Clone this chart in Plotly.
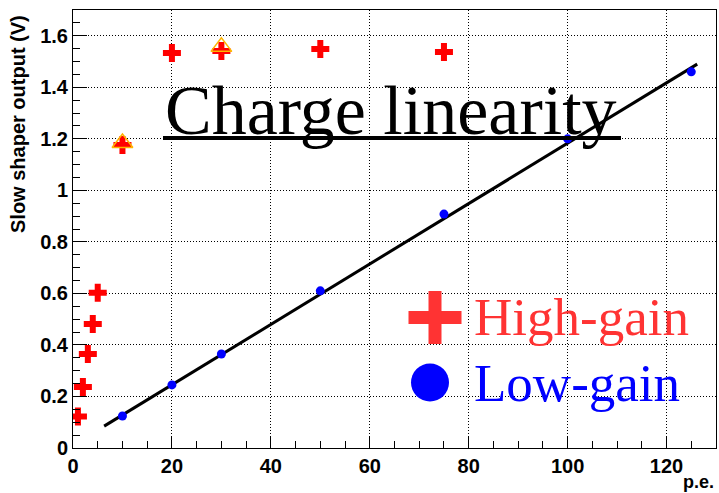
import plotly.graph_objects as go

# ---- data ----
hg_x = [1, 2, 3, 4, 5, 10, 20, 30, 50, 75]
hg_y = [0.122, 0.237, 0.365, 0.481, 0.603, 1.176, 1.533, 1.541, 1.549, 1.537]
tri_x = [10, 30]
tri_y = [1.184, 1.557]
lg_x = [10, 20, 30, 50, 75, 100, 125]
lg_y = [0.124, 0.245, 0.365, 0.61, 0.908, 1.2, 1.46]
fit_x = [6.3, 126.2]
fit_y = [0.085, 1.49]

x_range = [0, 130]
y_range = [0, 1.7]

# plot area in pixels
L, R, T, B = 73, 716, 10, 448
W, H = 719, 493

def px(x):
    return (x - L) / (R - L)

def py(y):
    return (B - y) / (B - T)

fig = go.Figure()
fig.add_trace(go.Scatter(x=hg_x, y=hg_y, mode="markers",
                         marker=dict(symbol="cross", size=15, color="#ff0000", line=dict(width=0)),
                         name="High-gain", showlegend=False))
fig.add_trace(go.Scatter(x=tri_x, y=tri_y, mode="markers",
                         marker=dict(symbol="triangle-up-open", size=18, color="#ffb400", line=dict(width=1.5)),
                         showlegend=False))
fig.add_trace(go.Scatter(x=fit_x, y=fit_y, mode="lines",
                         line=dict(color="black", width=3), showlegend=False))
fig.add_trace(go.Scatter(x=lg_x, y=lg_y, mode="markers",
                         marker=dict(symbol="circle", size=9, color="#0000ff", line=dict(width=0)),
                         name="Low-gain", showlegend=False))

tickfont = dict(family="Liberation Sans", size=20, color="black", weight="bold")
axis_common = dict(showline=True, linecolor="black", linewidth=1, mirror=True,
                   ticks="inside", tickcolor="black", showgrid=True, gridcolor="black",
                   gridwidth=1, griddash="1px,2px", zeroline=False, tickfont=tickfont)

fig.update_xaxes(range=x_range, dtick=20, tick0=0, ticklen=12,
                 minor=dict(dtick=5, ticks="inside", ticklen=7, tickcolor="black", showgrid=False),
                 **axis_common)
fig.update_yaxes(range=y_range, dtick=0.2, tick0=0, ticklen=14,
                 minor=dict(dtick=0.05, ticks="inside", ticklen=7, tickcolor="black", showgrid=False),
                 **axis_common)

annotations = [
    dict(text="Slow shaper output (V)", x=px(18), y=py(124), xref="paper", yref="paper",
         textangle=-90, showarrow=False, xanchor="center", yanchor="middle",
         font=dict(family="Liberation Sans", size=20, color="black", weight="bold")),
    dict(text="p.e.", x=1, y=py(482), xref="paper", yref="paper", showarrow=False,
         xanchor="right", yanchor="middle",
         font=dict(family="Liberation Sans", size=18, color="black", weight="bold")),
    dict(text="Charge linearity", x=px(391), y=py(111), xref="paper", yref="paper",
         showarrow=False, xanchor="center", yanchor="middle",
         font=dict(family="Liberation Serif", size=70, color="black")),
    dict(text="High-gain", x=px(472), y=py(317), xref="paper", yref="paper",
         showarrow=False, xanchor="left", yanchor="middle",
         font=dict(family="Liberation Serif", size=53, color="#ff3333")),
    dict(text="Low-gain", x=px(472), y=py(383), xref="paper", yref="paper",
         showarrow=False, xanchor="left", yanchor="middle",
         font=dict(family="Liberation Serif", size=53, color="#0000ff")),
]

shapes = [
    # title underline
    dict(type="rect", xref="paper", yref="paper", x0=px(163), x1=px(621), y0=py(140), y1=py(136),
         fillcolor="black", line=dict(width=0)),
    # legend cross
    dict(type="rect", xref="paper", yref="paper", x0=px(408.5), x1=px(461.5), y0=py(324), y1=py(311),
         fillcolor="#ff3333", line=dict(width=0)),
    dict(type="rect", xref="paper", yref="paper", x0=px(428.5), x1=px(441.5), y0=py(344), y1=py(291),
         fillcolor="#ff3333", line=dict(width=0)),
    # legend circle
    dict(type="circle", xref="paper", yref="paper", x0=px(411), x1=px(449), y0=py(401.5), y1=py(363.5),
         fillcolor="#0000ff", line=dict(width=0)),
]

fig.update_layout(width=W, height=H, margin=dict(l=L, r=W - R, t=T, b=H - B),
                  paper_bgcolor="white", plot_bgcolor="white",
                  annotations=annotations, shapes=shapes, showlegend=False)

fig.write_html("out.html", config={"displayModeBar": False},
               post_script="document.body.style.margin='0';document.body.style.overflow='hidden';")
